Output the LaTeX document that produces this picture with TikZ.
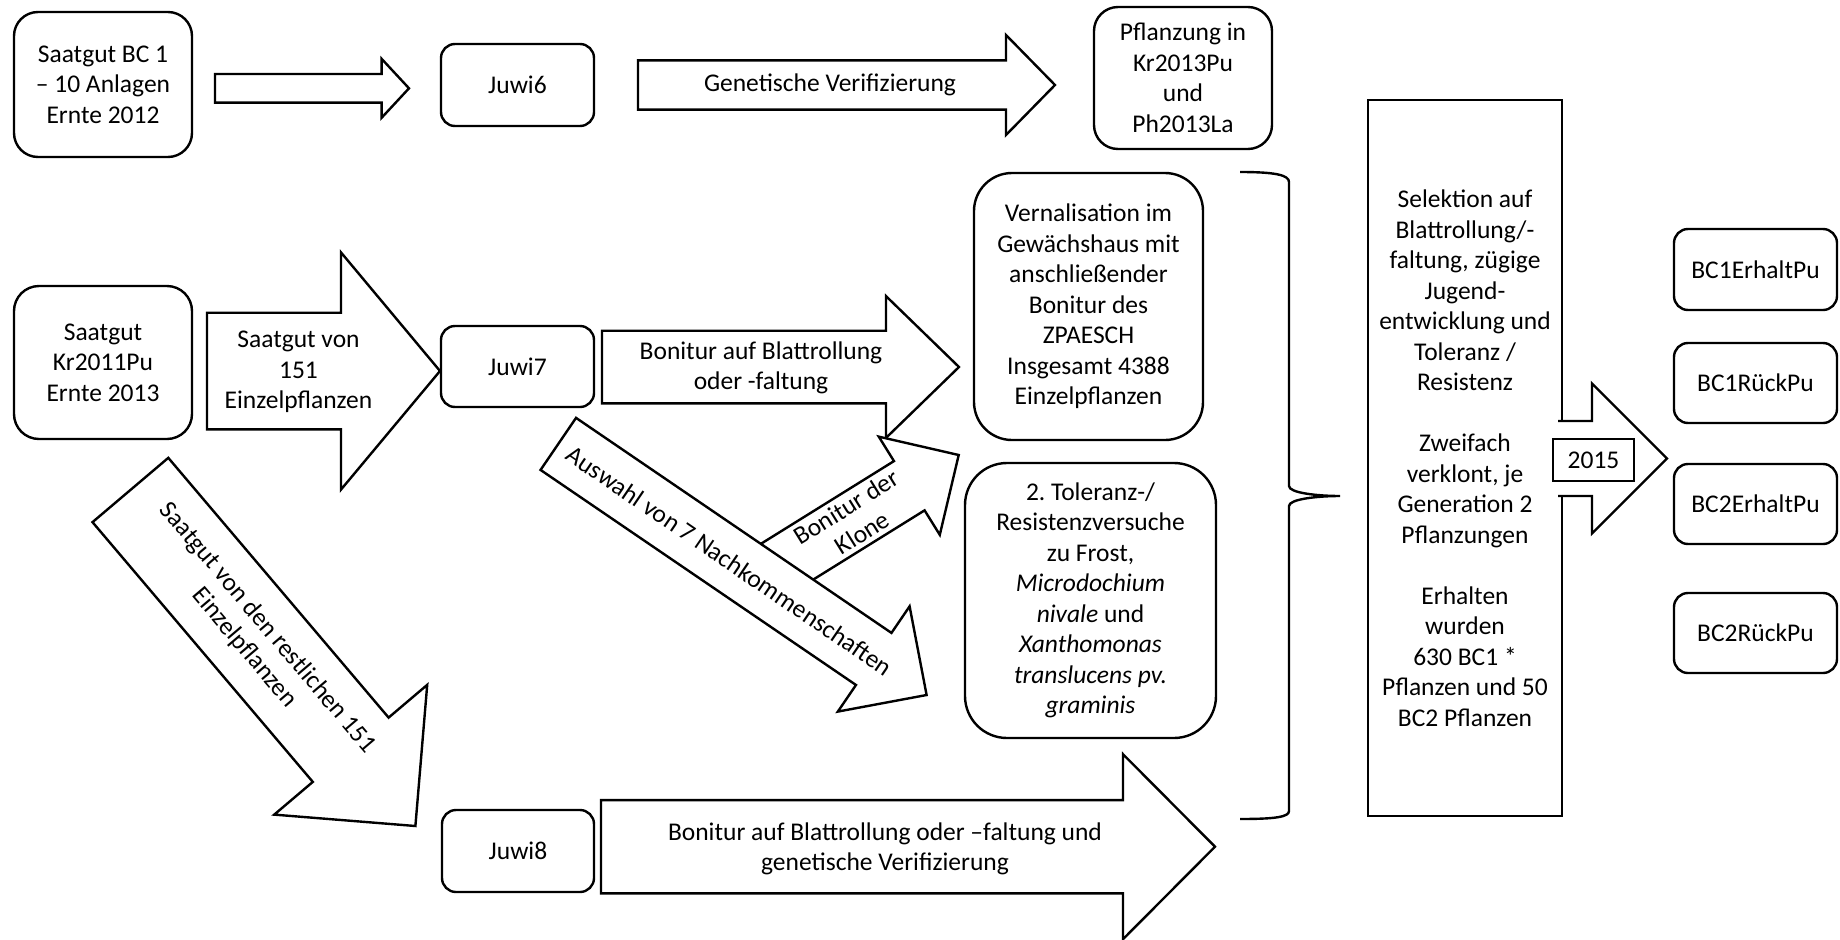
\documentclass[tikz,border=0pt]{standalone}
\usepackage{fontspec}
\setmainfont{Carlito}
\frenchspacing
\usetikzlibrary{calc,positioning}
\tikzset{
  roundbox/.style={draw, fill=white, rounded corners=#1, align=center, inner sep=0pt, outer sep=0pt},
  roundbox/.default=14pt,
  squarebox/.style={draw, fill=white, align=center, inner sep=0pt, outer sep=0pt},
  arrowbody/.style={draw, fill=white, line join=miter},
}
% block arrow: [end of path] tail, tip, half shaft, half head, head length
\newcommand{\blockarrow}[6][-- cycle]{%
  \coordinate (#2-base) at ($(#3)!#6pt!(#2)$);
  \draw[arrowbody] ($(#2)!#4pt!90:(#3)$) -- ($(#2-base)!#4pt!90:(#3)$)
    -- ($(#2-base)!#5pt!90:(#3)$) -- (#3)
    -- ($(#2-base)!#5pt!-90:(#3)$) -- ($(#2-base)!#4pt!-90:(#3)$)
    -- ($(#2)!#4pt!-90:(#3)$) #1;
}

\begin{document}
\begin{tikzpicture}[x=1pt, y=-1pt, line width=2.4pt, font=\fontsize{25.5}{30.5}\selectfont]
    \path[use as bounding box, fill=white] (0,0) rectangle (1840,940);

    % boxes
    \node[roundbox=24pt, minimum width=178pt, minimum height=145pt] (bcseed) at (103,84.5) {Saatgut BC 1\\– 10 Anlagen\\Ernte 2012};
    \node[roundbox, minimum width=153pt, minimum height=82pt] (juwi6) at (517.5,85) {Juwi6};
    \node[roundbox=24pt, minimum width=178pt, minimum height=142pt] (plant13) at (1183,78) {Pflanzung in\\Kr2013Pu\\und\\Ph2013La};
    \node[roundbox=25pt, minimum width=178pt, minimum height=153pt] (krseed) at (103,362.5) {Saatgut\\Kr2011Pu\\Ernte 2013};
    \node[roundbox, minimum width=153pt, minimum height=81pt] (juwi7) at (517.5,366.5) {Juwi7};
    \node[roundbox, minimum width=152pt, minimum height=82pt] (juwi8) at (518,851) {Juwi8};
    \node[roundbox=38pt, minimum width=229pt, minimum height=267pt] (vernal) at (1088.5,306.5) {Vernalisation im\\Gewächshaus mit\\anschließender\\Bonitur des\\ZPAESCH\\Insgesamt 4388\\Einzelpflanzen};
    \node[roundbox=42pt, minimum width=251pt, minimum height=275pt] (resist) at (1090.5,600.5) {2. Toleranz-/\\Resistenzversuche\\zu Frost,\\\textit{Microdochium}\\\textit{nivale} und\\\textit{Xanthomonas}\\\textit{translucens pv.}\\\textit{graminis}};
    \node[squarebox, minimum width=194pt, minimum height=716pt] (select) at (1465,458) {Selektion auf\\Blattrollung/-\\faltung, zügige\\Jugend-\\entwicklung und\\Toleranz /\\Resistenz\\[30.5pt]Zweifach\\verklont, je\\Generation 2\\Pflanzungen\\[30.5pt]Erhalten\\wurden\\630 BC1 *\\Pflanzen und 50\\BC2 Pflanzen};

    \node[roundbox, minimum width=163pt, minimum height=81pt] (bc1keep) at (1755.5,269.5) {BC1ErhaltPu};
    \node[roundbox, minimum width=163pt, minimum height=80pt, below=33pt of bc1keep] (bc1back) {BC1RückPu};
    \node[roundbox, minimum width=163pt, minimum height=80pt, below=41pt of bc1back] (bc2keep) {BC2ErhaltPu};
    \node[roundbox, minimum width=163pt, minimum height=80pt, below=49pt of bc2keep] (bc2back) {BC2RückPu};

    % arrow ends
    \coordinate (s1) at (215,88.3);    \coordinate (e1) at (409,88.3);
    \coordinate (s2) at (638,85);      \coordinate (e2) at (1055,85);
    \coordinate (s3) at (207,371);     \coordinate (e3) at (440,371);
    \coordinate (s4) at (602,367);     \coordinate (e4) at (959,367);
    \coordinate (s5) at (772.1,571);   \coordinate (e5) at (958.7,455);
    \coordinate (s6) at (558.3,443.9); \coordinate (e6) at (926.6,695);
    \coordinate (s7) at (130.4,490);   \coordinate (e7) at (415.4,826);
    \coordinate (s8) at (601,846.7);   \coordinate (e8) at (1215,846.7);
    \coordinate (s9) at (1558,458.5);  \coordinate (e9) at (1667,458.5);

    \blockarrow{s1}{e1}{14.35}{29.5}{27.4}
    \blockarrow{s2}{e2}{24.65}{50}{49}
    \blockarrow{s3}{e3}{58.3}{118.6}{99}
    \blockarrow{s4}{e4}{36.3}{70.9}{73}
    \blockarrow{s5}{e5}{29}{57.8}{58.2}
    \blockarrow{s6}{e6}{31.5}{63.7}{64}
    \blockarrow{s7}{e7}{49.7}{100.3}{100}
    \blockarrow{s8}{e8}{46.65}{92.5}{92}
    \blockarrow[]{s9}{e9}{37.5}{75}{75}

    % arrow texts
    \node at (830,85) {Genetische Verifizierung};
    \node[align=center] at (298.5,372) {Saatgut von\\151\\Einzelpflanzen};
    \node[align=center] at (761,368) {Bonitur auf Blattrollung\\oder -faltung};
    \node[align=center] at (885,849) {Bonitur auf Blattrollung oder –faltung und\\genetische Verifizierung};
    \path (s5) -- (e5) node[pos=0.44, sloped, align=center] {Bonitur der\\Klone};
    \path (s6) -- (e6) node[pos=0.465, sloped] {Auswahl von 7 Nachkommenschaften};
    \path (s7) -- (e7) node[pos=0.44, sloped, align=center] {Saatgut von den restlichen 151\\Einzelpflanzen};

    \node[squarebox, minimum width=81pt, minimum height=42pt] (year) at (1593.5,460) {2015};

    % brace
    \draw (1240,172) .. controls (1275,172) and (1289,175) .. (1289,182) -- (1289,486)
          .. controls (1289,493) and (1318,496) .. (1340,496)
          .. controls (1318,496) and (1289,499) .. (1289,506) -- (1289,811)
          .. controls (1289,817) and (1275,819) .. (1240,819);
\end{tikzpicture}
\end{document}
